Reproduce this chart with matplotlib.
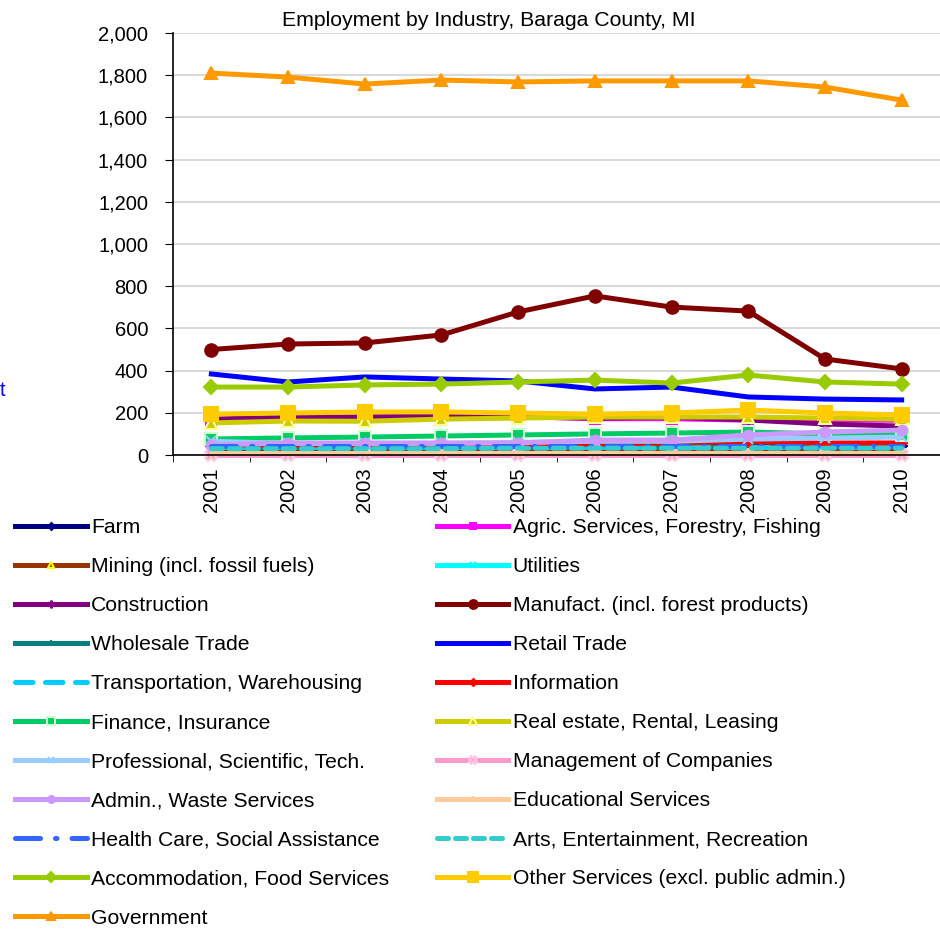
import matplotlib
matplotlib.use('Agg')
import matplotlib.pyplot as plt

plt.rcParams['font.family'] = ['Liberation Sans', 'DejaVu Sans']

years = ['2001', '2002', '2003', '2004', '2005', '2006', '2007', '2008', '2009', '2010']

farm = [45, 45, 45, 45, 45, 45, 45, 45, 45, 45]
agric = [160, 175, 180, 185, 182, 172, 172, 165, 165, 165]
mining = [12, 12, 12, 12, 14, 14, 16, 20, 24, 20]
utilities = [10, 10, 10, 10, 10, 10, 10, 10, 10, 10]
construction = [170, 180, 180, 185, 180, 175, 180, 166, 147, 137]
manufact = [500, 526, 531, 569, 678, 754, 701, 682, 455, 408]
wholesale = [35, 35, 35, 35, 36, 36, 37, 38, 38, 38]
retail = [384, 346, 370, 360, 351, 313, 322, 275, 265, 261]
transport = [38, 38, 38, 38, 38, 38, 38, 38, 38, 38]
information = [48, 48, 48, 48, 50, 52, 57, 62, 57, 57]
finance = [76, 81, 85, 90, 95, 100, 104, 109, 100, 97]
real_estate = [152, 161, 160, 170, 175, 180, 180, 180, 175, 170]
professional = [65, 55, 55, 55, 60, 65, 65, 75, 80, 85]
management = [0, 0, 0, 0, 0, 0, 0, 0, 0, 0]
admin = [47, 57, 57, 57, 57, 71, 71, 95, 109, 118]
educational = [10, 10, 10, 10, 10, 10, 10, 10, 10, 10]
health = [42, 42, 42, 42, 42, 42, 42, 42, 42, 42]
arts = [30, 30, 30, 30, 32, 32, 32, 32, 32, 32]
accommodation = [322, 322, 332, 336, 346, 355, 341, 379, 346, 336]
other_services = [194, 199, 204, 204, 199, 194, 199, 213, 199, 190]
government = [1810, 1791, 1758, 1777, 1768, 1773, 1773, 1773, 1744, 1682]

# name, data, line colour, linestyle, marker, marker face, marker edge, marker size
series = [
    ('Farm', farm, '#000080', '-', 'D', '#000080', '#000080', 5),
    ('Agric. Services, Forestry, Fishing', agric, '#FF00FF', '-', 's', '#FF00FF', '#FF00FF', 7),
    ('Mining (incl. fossil fuels)', mining, '#993300', '-', '^', '#993300', '#FFFF00', 7),
    ('Utilities', utilities, '#00FFFF', '-', 'x', '#00FFFF', '#00FFFF', 6),
    ('Construction', construction, '#800080', '-', (6, 2, 0), '#800080', '#800080', 8),
    ('Manufact. (incl. forest products)', manufact, '#800000', '-', 'o', '#800000', '#800000', 9),
    ('Wholesale Trade', wholesale, '#008080', '-', '|', '#008080', '#008080', 7),
    ('Retail Trade', retail, '#0000FF', '-', None, None, None, 0),
    ('Transportation, Warehousing', transport, '#00CCFF', (0, (3.5, 2.5)), None, None, None, 0),
    ('Information', information, '#FF0000', '-', 'D', '#FF0000', '#FF0000', 5),
    ('Finance, Insurance', finance, '#00CC66', '-', 's', '#00CC66', '#CCFFCC', 8),
    ('Real estate, Rental, Leasing', real_estate, '#CCCC00', '-', '^', '#CCCC00', '#FFFF99', 8),
    ('Professional, Scientific, Tech.', professional, '#99CCFF', '-', 'x', '#99CCFF', '#99CCFF', 7),
    ('Management of Companies', management, '#FF99CC', '-', 'X', '#FF99CC', '#FFCCE6', 9),
    ('Admin., Waste Services', admin, '#CC99FF', '-', 'o', '#CC99FF', '#CC99FF', 7),
    ('Educational Services', educational, '#FFCC99', '-', '|', '#FFCC99', '#FFCC99', 7),
    ('Health Care, Social Assistance', health, '#3366FF', (0, (5, 3, 0.3, 3)), None, None, None, 0),
    ('Arts, Entertainment, Recreation', arts, '#33CCCC', (0, (2.2, 1.4)), None, None, None, 0),
    ('Accommodation, Food Services', accommodation, '#99CC00', '-', 'D', '#99CC00', '#99CC00', 7),
    ('Other Services (excl. public admin.)', other_services, '#FFCC00', '-', 's', '#FFCC00', '#FFCC00', 10),
    ('Government', government, '#FF9900', '-', '^', '#FF9900', '#FF9900', 8),
]

fig = plt.figure(figsize=(9.4, 9.32), dpi=100)
ax = fig.add_axes([173 / 940, 1 - 455 / 932, 1 - 173 / 940, (455 - 33) / 932])

x = list(range(len(years)))
handles = []
for name, vals, color, ls, marker, mfc, mec, ms in series:
    h, = ax.plot(x, vals, color=color, linestyle=ls, linewidth=3.6, marker=marker,
                 markerfacecolor=mfc, markeredgecolor=mec, markersize=ms,
                 markeredgewidth=1.5, dash_capstyle='round', label=name, clip_on=False)
    handles.append(h)

ax.set_xlim(-0.5, 9.5)
ax.set_ylim(0, 2000)
ax.set_yticks(range(0, 2001, 200))
ax.set_yticklabels([f'{v:,}' for v in range(0, 2001, 200)], fontsize=14.5)
ax.set_xticks(x)
ax.set_xticklabels(years, rotation=90, fontsize=14.5)
ax.tick_params(axis='x', length=0, pad=9)
ax.set_xticks([i - 0.5 for i in range(len(years) + 1)], minor=True)
ax.tick_params(axis='x', which='minor', length=5, direction='out', color='black')
ax.tick_params(axis='y', length=6, direction='out', pad=12)
ax.grid(axis='y', color='#D9D9D9', linewidth=1.5)
ax.set_axisbelow(True)
for s in ['top', 'right']:
    ax.spines[s].set_visible(False)
ax.spines['left'].set_linewidth(1.2)
ax.spines['bottom'].set_linewidth(1.2)

fig.text(489 / 940, 1 - 20 / 932, 'Employment by Industry, Baraga County, MI', ha='center', va='center',
         fontsize=15.3)
fig.text(0.0, 1 - 391 / 932, 't', color='blue', fontsize=14.5, va='center', ha='left')

# legend reads row by row, matplotlib fills columns
order = list(range(0, 21, 2)) + list(range(1, 21, 2))
fig.legend([handles[i] for i in order], [series[i][0] for i in order], ncol=2,
           loc='upper left', bbox_to_anchor=(15 / 940, 1 - 518 / 932), frameon=False,
           fontsize=15.2, handlelength=3.4, handletextpad=0.2, columnspacing=2.25,
           labelspacing=0.95, borderpad=0, borderaxespad=0, markerscale=0.7)

fig.savefig('out.png', dpi=100)
